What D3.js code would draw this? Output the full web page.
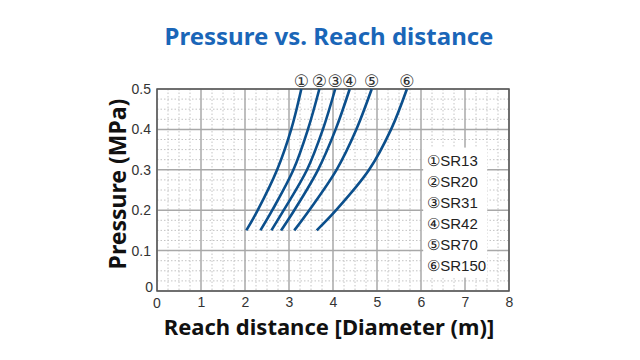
<!DOCTYPE html>
<html>
<head>
<meta charset="utf-8">
<script src="https://cdn.jsdelivr.net/npm/d3@7"></script>
<style>
  body { margin: 0; background: #fff; }
  svg { display: block; }
</style>
</head>
<body>
<svg id="chart" width="640" height="360"></svg>
<script>
// data
const pressures = [0.15, 0.2, 0.3, 0.4, 0.5];
const models = ['SR13', 'SR20', 'SR31', 'SR42', 'SR70', 'SR150'];
const marks = ['①', '②', '③', '④', '⑤', '⑥'];
const reachSR13 = [2.03, 2.29, 2.73, 3.05, 3.28];
const reachSR20 = [2.35, 2.62, 3.10, 3.43, 3.69];
const reachSR31 = [2.60, 2.88, 3.41, 3.77, 4.05];
const reachSR42 = [2.82, 3.12, 3.66, 4.06, 4.38];
const reachSR70 = [3.12, 3.46, 4.08, 4.53, 4.88];
const reachSR150 = [3.63, 4.07, 4.82, 5.32, 5.68];
const xTicks = [0, 1, 2, 3, 4, 5, 6, 7, 8];
const yTicks = [0, 0.1, 0.2, 0.3, 0.4, 0.5];

const series = [reachSR13, reachSR20, reachSR31, reachSR42, reachSR70, reachSR150]
  .map((r, i) => ({name: models[i], mark: marks[i], pts: r.map((x, j) => ({x: x, y: pressures[j]}))}));

const svg = d3.select('#chart');
const margin = {top: 89, right: 131, bottom: 69, left: 157};
const width = 640 - margin.left - margin.right,
      height = 360 - margin.top - margin.bottom;

const x = d3.scaleLinear().domain([0, 8]).range([0, width]);
const y = d3.scaleLinear().domain([0, 0.5]).range([height, 0]);

const g = svg.append('g').attr('transform', 'translate(' + margin.left + ',' + margin.top + ')');

// minor dotted grid
g.append('g').selectAll('line')
  .data(d3.range(0, 8.001, 0.25).filter(v => v % 1 !== 0))
  .enter().append('line')
  .attr('x1', d => x(d)).attr('x2', d => x(d))
  .attr('y1', 0).attr('y2', height)
  .attr('stroke', '#c4c4c4').attr('stroke-width', 1).attr('stroke-dasharray', '1.5,2');
g.append('g').selectAll('line')
  .data(d3.range(0, 0.5001, 0.025).filter(v => Math.round(v * 1000) % 100 !== 0))
  .enter().append('line')
  .attr('y1', d => y(d)).attr('y2', d => y(d))
  .attr('x1', 0).attr('x2', width)
  .attr('stroke', '#c4c4c4').attr('stroke-width', 1).attr('stroke-dasharray', '1.5,2');

// major grid
g.append('g').selectAll('line').data(xTicks).enter().append('line')
  .attr('x1', d => x(d)).attr('x2', d => x(d)).attr('y1', 0).attr('y2', height)
  .attr('stroke', '#a8a8a8').attr('stroke-width', 1.5);
g.append('g').selectAll('line').data(yTicks).enter().append('line')
  .attr('y1', d => y(d)).attr('y2', d => y(d)).attr('x1', 0).attr('x2', width)
  .attr('stroke', '#a8a8a8').attr('stroke-width', 1.5);

// legend box (white patch over grid)
const lg = g.append('g').attr('transform', 'translate(' + (x(6.05)) + ',' + y(0.355) + ')');
lg.append('rect').attr('x', 0).attr('y', 0).attr('width', 64).attr('height', 130).attr('fill', '#fff');
lg.selectAll('text').data(series).enter().append('text')
  .attr('x', 4).attr('y', (d, i) => 18 + i * 21)
  .attr('font-family', 'Liberation Sans, Arial, sans-serif').attr('font-size', 15).attr('fill', '#222')
  .text(d => d.mark + d.name);

// frame
g.append('rect').attr('width', width).attr('height', height)
  .attr('fill', 'none').attr('stroke', '#555').attr('stroke-width', 1.5);

// curves
const line = d3.line().x(d => x(d.x)).y(d => y(d.y)).curve(d3.curveCatmullRom.alpha(0.5));
g.selectAll('.curve').data(series).enter().append('path')
  .attr('class', 'curve')
  .attr('d', d => line(d.pts))
  .attr('fill', 'none').attr('stroke', '#0b4f8c').attr('stroke-width', 2.6);

// circled numbers on top
g.selectAll('.mark').data(series).enter().append('text')
  .attr('class', 'mark')
  .attr('x', d => x(d.pts[d.pts.length - 1].x))
  .attr('y', -2)
  .attr('text-anchor', 'middle')
  .attr('font-family', 'DejaVu Sans, sans-serif').attr('font-size', 17).attr('fill', '#333')
  .text(d => d.mark);

// axes
const xAxis = g.append('g').attr('transform', 'translate(0,' + height + ')')
  .call(d3.axisBottom(x).tickValues(xTicks.slice(1)).tickSize(0).tickPadding(6).tickFormat(d3.format('d')));
const yAxis = g.append('g')
  .call(d3.axisLeft(y).tickValues(yTicks.slice(1)).tickSize(0).tickPadding(6).tickFormat(d3.format('.1f')));
[xAxis, yAxis].forEach(a => {
  a.select('.domain').remove();
  a.selectAll('text').attr('font-family', 'Liberation Sans, Arial, sans-serif').attr('font-size', 14).attr('fill', '#333');
});
// the two zero labels
g.append('text').attr('x', -4).attr('y', height + 1).attr('text-anchor', 'end')
  .attr('font-family', 'Liberation Sans, Arial, sans-serif').attr('font-size', 14).attr('fill', '#333').text('0');
g.append('text').attr('x', x(0)).attr('y', height + 17).attr('text-anchor', 'middle')
  .attr('font-family', 'Liberation Sans, Arial, sans-serif').attr('font-size', 14).attr('fill', '#333').text('0');

// titles
svg.append('text').attr('x', 329).attr('y', 45).attr('text-anchor', 'middle')
  .attr('font-family', 'Noto Sans, sans-serif').attr('font-weight', 'bold').attr('font-size', 24)
  .attr('fill', '#1a66b8').text('Pressure vs. Reach distance');
svg.append('text').attr('x', 329).attr('y', 335).attr('text-anchor', 'middle')
  .attr('font-family', 'Noto Sans, sans-serif').attr('font-weight', 'bold').attr('font-size', 22)
  .attr('fill', '#111').text('Reach distance [Diameter (m)]');
svg.append('text').attr('transform', 'translate(126,184) rotate(-90)').attr('text-anchor', 'middle')
  .attr('font-family', 'Noto Sans, sans-serif').attr('font-weight', 'bold').attr('font-size', 23)
  .attr('fill', '#111').text('Pressure (MPa)');
</script>
</body>
</html>
